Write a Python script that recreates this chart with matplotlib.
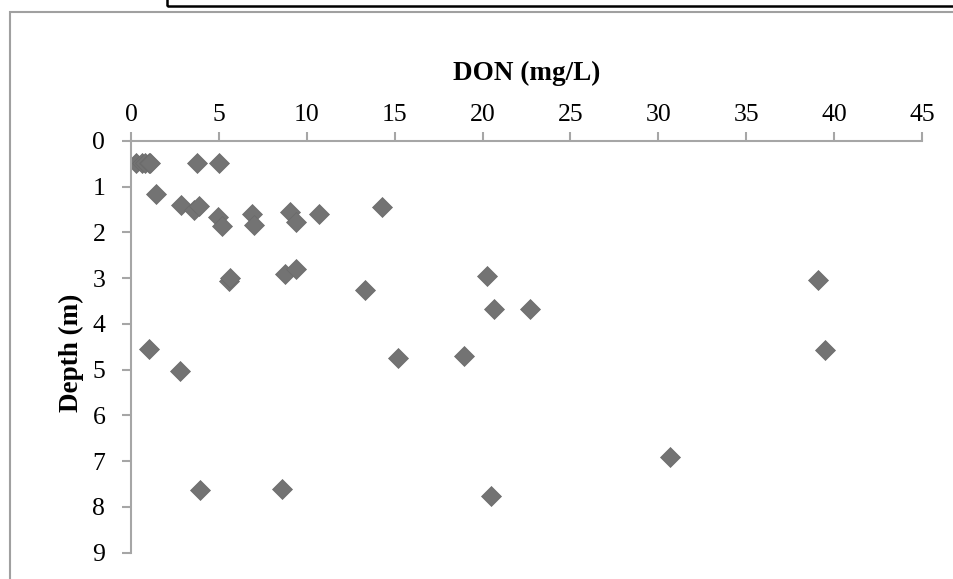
import matplotlib
matplotlib.use('Agg')
import matplotlib.pyplot as plt
from matplotlib.patches import Rectangle

# DON concentration (mg/L) and sampling depth (m)
don = [0.3, 0.6, 0.8, 1.0, 1.1, 3.74, 4.98,
       1.43, 2.85, 3.59, 3.88, 4.94, 5.17, 6.88, 6.97, 9.06, 9.40, 10.67, 14.28,
       5.55, 5.64, 8.77, 9.40, 13.33, 20.23, 20.65, 22.68, 39.09,
       1.04, 2.79, 15.2, 18.94, 39.49,
       30.67, 3.93, 8.59, 20.46]
depth = [0.49, 0.49, 0.49, 0.49, 0.49, 0.49, 0.49,
         1.15, 1.39, 1.50, 1.42, 1.67, 1.86, 1.60, 1.83, 1.55, 1.77, 1.60, 1.44,
         3.06, 3.00, 2.91, 2.79, 3.25, 2.95, 3.68, 3.68, 3.03,
         4.55, 5.03, 4.75, 4.70, 4.57,
         6.90, 7.63, 7.61, 7.77]

xticks = [0, 5, 10, 15, 20, 25, 30, 35, 40, 45]
yticks = [0, 1, 2, 3, 4, 5, 6, 7, 8, 9]

plt.rcParams['font.family'] = 'Liberation Serif'

fig = plt.figure(figsize=(9.54, 5.79), dpi=100)
ax = fig.add_axes([0.1373, 0.0454, 0.8292, 0.7111])

ax.plot(don, depth, 'D', color='#737373', markersize=10.5,
        markeredgecolor='#6a6a6a', markeredgewidth=0.5)

ax.set_xlim(0, 45)
ax.set_ylim(9, 0)
ax.set_xticks(xticks)
ax.set_yticks(yticks)

ax.xaxis.tick_top()
ax.xaxis.set_label_position('top')
ax.set_xlabel('DON (mg/L)', fontsize=19.5, fontweight='bold')
ax.set_ylabel('Depth (m)', fontsize=19.5, fontweight='bold')
ax.xaxis.set_label_coords(0.5, 1.148)
ax.yaxis.set_label_coords(-0.059, 0.485)

for side in ['bottom', 'right']:
    ax.spines[side].set_visible(False)
for side in ['top', 'left']:
    ax.spines[side].set_color('#a6a6a6')
    ax.spines[side].set_linewidth(1.5)
ax.tick_params(axis='x', direction='out', length=6.5, width=1.5, color='#a6a6a6',
               labelsize=18.5, pad=4.5)
ax.tick_params(axis='y', direction='out', length=6.5, width=1.5, color='#a6a6a6',
               labelsize=18.5, pad=12)

# outer chart frame and text box edge at the top
fig.patches.append(Rectangle((10 / 954, -0.1), 1.2, (579 - 12) / 579 + 0.1,
                             transform=fig.transFigure, fill=False,
                             edgecolor='#a0a0a0', linewidth=1.5))
fig.patches.append(Rectangle((167 / 954, (579 - 6) / 579), 1.2, 0.2,
                             transform=fig.transFigure, fill=False,
                             edgecolor='black', linewidth=1.8))

fig.set_facecolor('white')
fig.savefig('out.png')
